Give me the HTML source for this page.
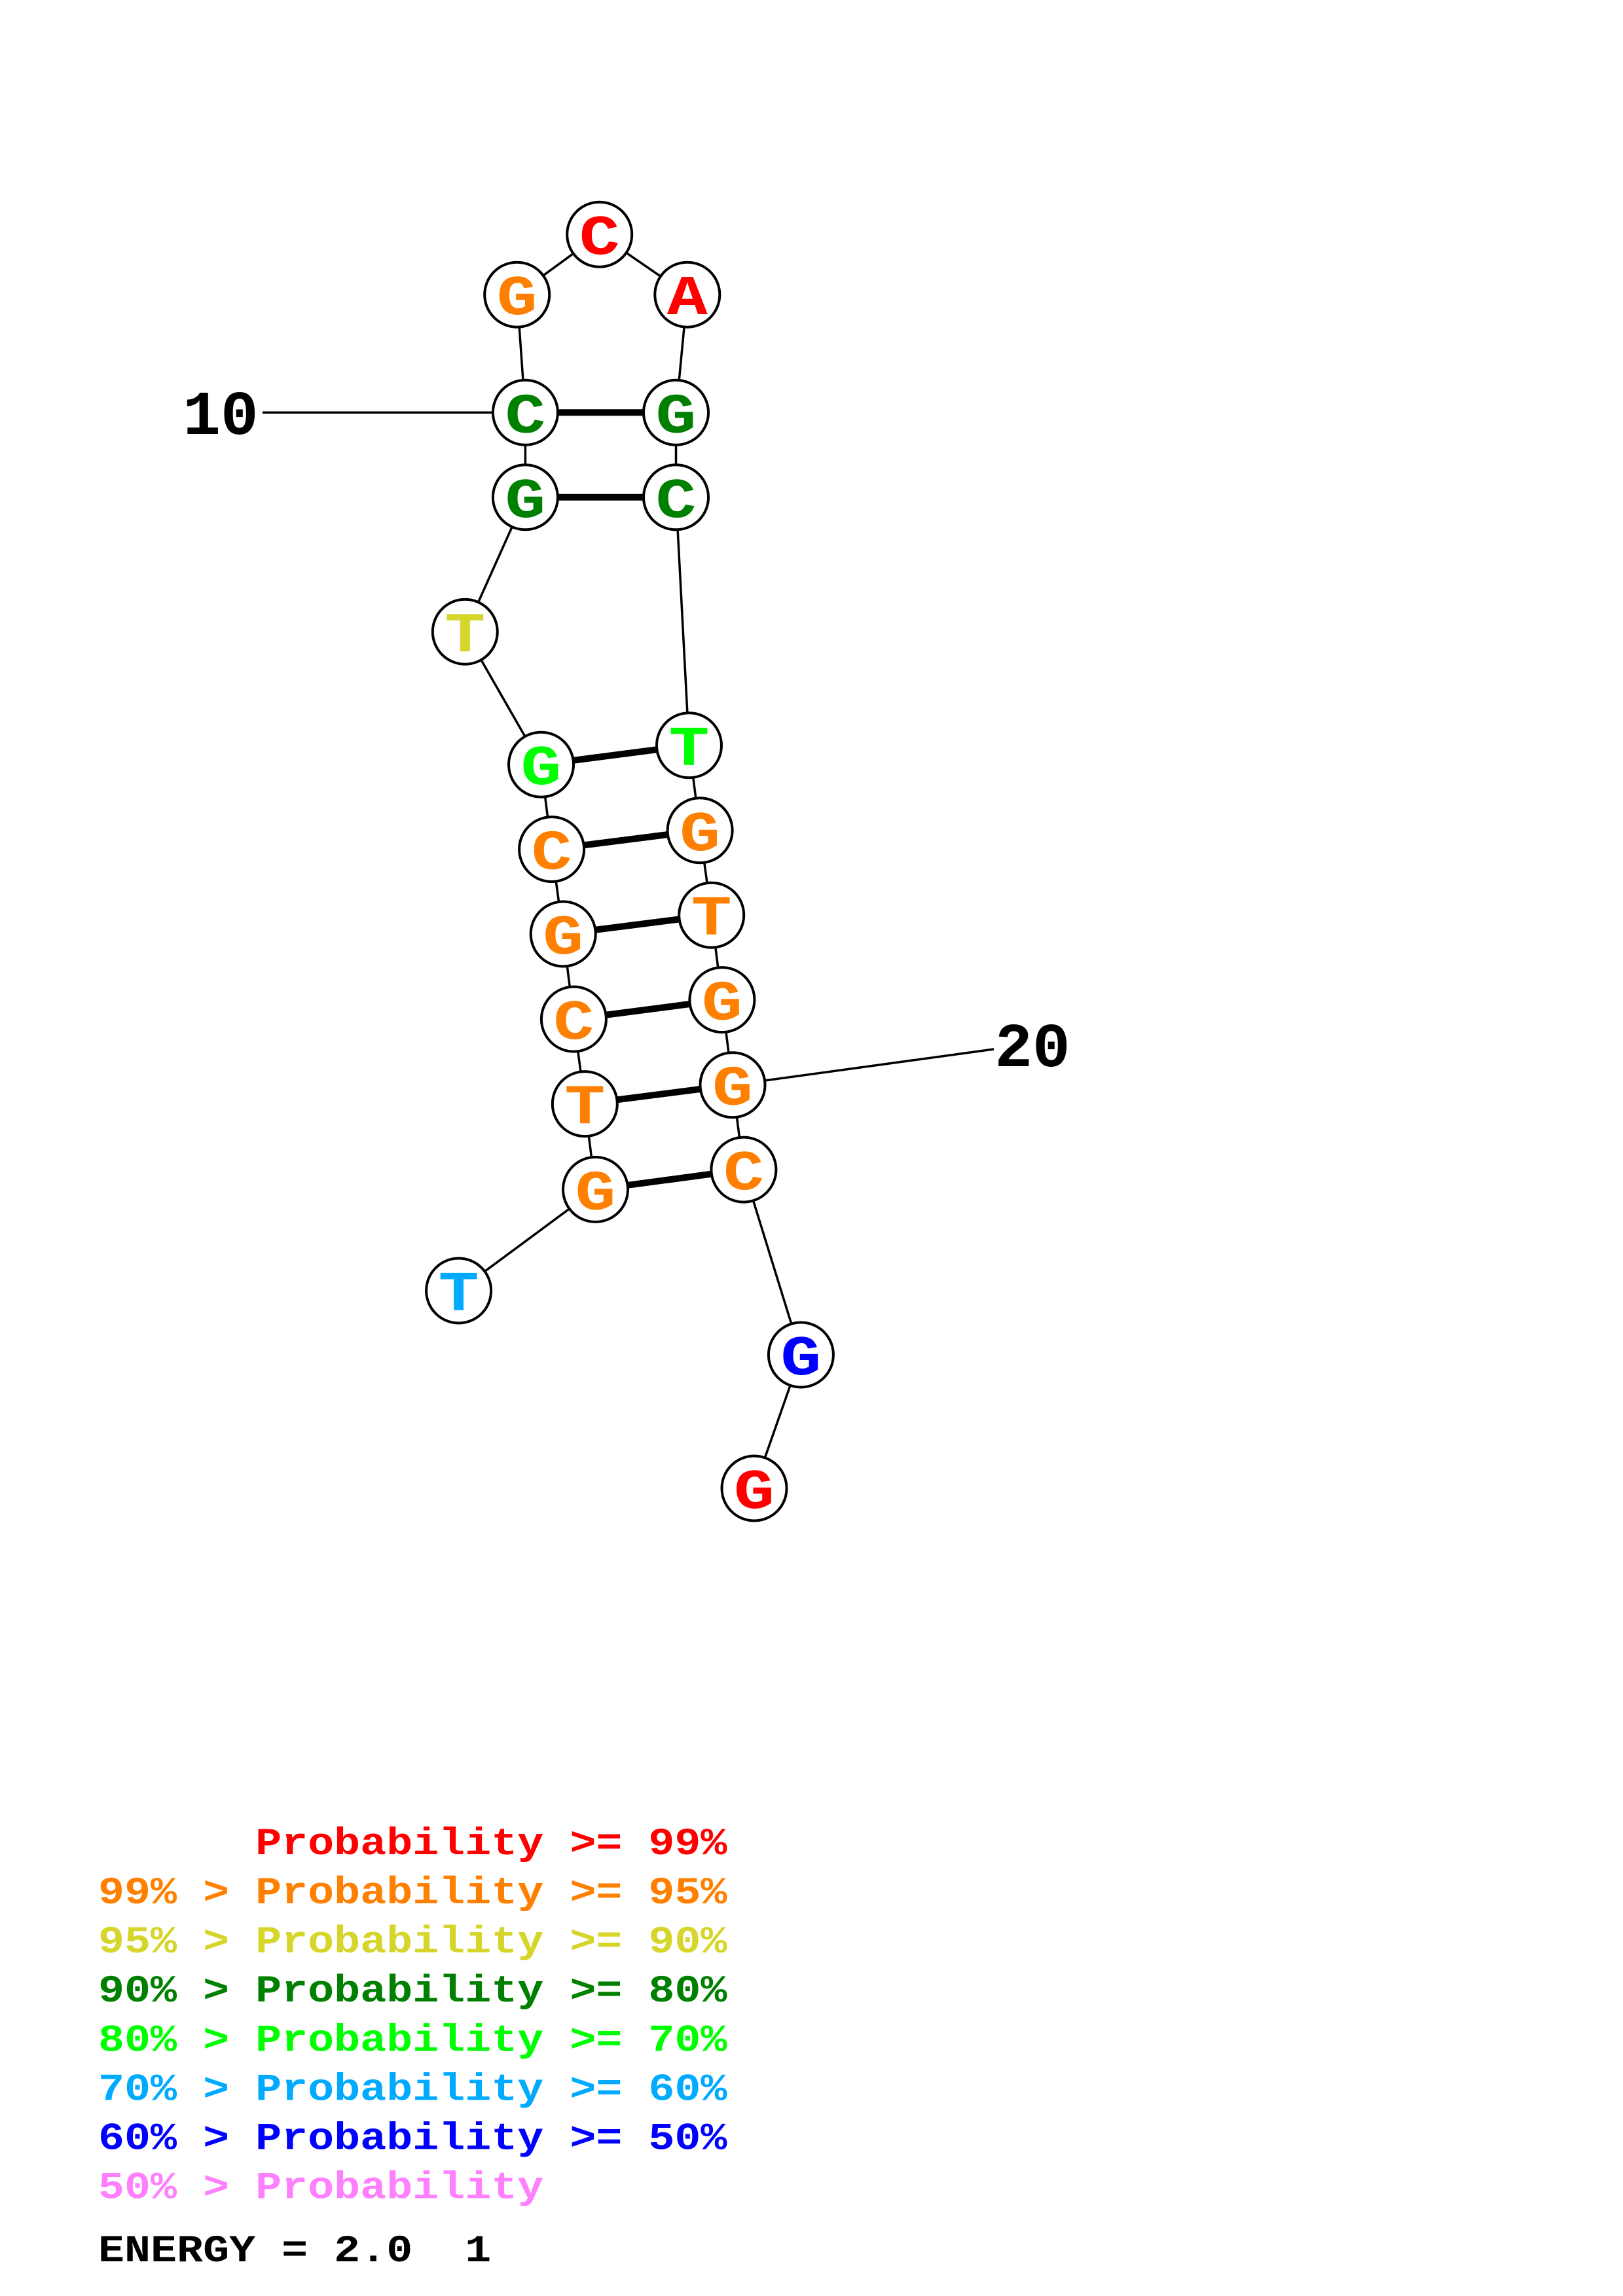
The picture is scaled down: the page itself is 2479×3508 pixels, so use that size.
<!DOCTYPE html>
<html>
<head>
<meta charset="utf-8">
<style>
  html, body { margin: 0; padding: 0; background: #ffffff; }
  svg { display: block; }
  text { font-family: "Liberation Mono", "DejaVu Sans Mono", monospace; font-weight: bold; white-space: pre; }
</style>
</head>
<body>
<svg width="2479" height="3508" viewBox="0 0 2479 3508" xmlns="http://www.w3.org/2000/svg">
  <rect x="0" y="0" width="2479" height="3508" fill="#ffffff"/>

  <!-- label lines -->
  <line x1="401" y1="630.3" x2="802.4" y2="630.3" stroke="#000" stroke-width="3.5"/>
  <line x1="1119" y1="1657.7" x2="1518" y2="1603" stroke="#000" stroke-width="3.5"/>

  <!-- backbone -->
  <polyline fill="none" stroke="#000" stroke-width="3.5" stroke-linejoin="round"
    points="700.6,1972 909.5,1817.4 893.3,1686.6 876.4,1557.1 860.2,1427 842.6,1297.6 826.5,1168.2 710.3,965.3 802.4,759.8 802.4,630.3 789.7,450.2 915.7,358.2 1049.8,450.2 1032.5,630.3 1032.5,759.8 1052.5,1138.8 1069.1,1268.8 1086.7,1398.2 1102.9,1527.6 1119,1657.7 1135.9,1787.1 1223.4,2070 1152,2274"/>

  <!-- base pairs -->
  <g stroke="#000" stroke-width="10">
    <line x1="802.4" y1="630.3" x2="1032.5" y2="630.3"/>
    <line x1="802.4" y1="759.8" x2="1032.5" y2="759.8"/>
    <line x1="826.5" y1="1168.2" x2="1052.5" y2="1138.8"/>
    <line x1="842.6" y1="1297.6" x2="1069.1" y2="1268.8"/>
    <line x1="860.2" y1="1427" x2="1086.7" y2="1398.2"/>
    <line x1="876.4" y1="1557.1" x2="1102.9" y2="1527.6"/>
    <line x1="893.3" y1="1686.6" x2="1119" y2="1657.7"/>
    <line x1="909.5" y1="1817.4" x2="1135.9" y2="1787.1"/>
  </g>

  <!-- nodes -->
  <g fill="#ffffff" stroke="#000" stroke-width="4">
    <circle cx="700.6" cy="1972" r="49.5"/>
    <circle cx="909.5" cy="1817.4" r="49.5"/>
    <circle cx="893.3" cy="1686.6" r="49.5"/>
    <circle cx="876.4" cy="1557.1" r="49.5"/>
    <circle cx="860.2" cy="1427" r="49.5"/>
    <circle cx="842.6" cy="1297.6" r="49.5"/>
    <circle cx="826.5" cy="1168.2" r="49.5"/>
    <circle cx="710.3" cy="965.3" r="49.5"/>
    <circle cx="802.4" cy="759.8" r="49.5"/>
    <circle cx="802.4" cy="630.3" r="49.5"/>
    <circle cx="789.7" cy="450.2" r="49.5"/>
    <circle cx="915.7" cy="358.2" r="49.5"/>
    <circle cx="1049.8" cy="450.2" r="49.5"/>
    <circle cx="1032.5" cy="630.3" r="49.5"/>
    <circle cx="1032.5" cy="759.8" r="49.5"/>
    <circle cx="1052.5" cy="1138.8" r="49.5"/>
    <circle cx="1069.1" cy="1268.8" r="49.5"/>
    <circle cx="1086.7" cy="1398.2" r="49.5"/>
    <circle cx="1102.9" cy="1527.6" r="49.5"/>
    <circle cx="1119" cy="1657.7" r="49.5"/>
    <circle cx="1135.9" cy="1787.1" r="49.5"/>
    <circle cx="1223.4" cy="2070" r="49.5"/>
    <circle cx="1152" cy="2274" r="49.5"/>
  </g>

  <!-- node letters -->
  <g font-size="86" text-anchor="middle">
    <text transform="translate(700.6,2002) scale(1.2,1)" fill="#00aaff">T</text>
    <text transform="translate(909.5,1847.4) scale(1.2,1)" fill="#ff8000">G</text>
    <text transform="translate(893.3,1716.6) scale(1.2,1)" fill="#ff8000">T</text>
    <text transform="translate(876.4,1587.1) scale(1.2,1)" fill="#ff8000">C</text>
    <text transform="translate(860.2,1457) scale(1.2,1)" fill="#ff8000">G</text>
    <text transform="translate(842.6,1327.6) scale(1.2,1)" fill="#ff8000">C</text>
    <text transform="translate(826.5,1198.2) scale(1.2,1)" fill="#00ff00">G</text>
    <text transform="translate(710.3,995.3) scale(1.2,1)" fill="#d5d52a">T</text>
    <text transform="translate(802.4,789.8) scale(1.2,1)" fill="#008000">G</text>
    <text transform="translate(802.4,660.3) scale(1.2,1)" fill="#008000">C</text>
    <text transform="translate(789.7,480.2) scale(1.2,1)" fill="#ff8000">G</text>
    <text transform="translate(915.7,388.2) scale(1.2,1)" fill="#ff0000">C</text>
    <text transform="translate(1049.8,480.2) scale(1.2,1)" fill="#ff0000">A</text>
    <text transform="translate(1032.5,660.3) scale(1.2,1)" fill="#008000">G</text>
    <text transform="translate(1032.5,789.8) scale(1.2,1)" fill="#008000">C</text>
    <text transform="translate(1052.5,1168.8) scale(1.2,1)" fill="#00ff00">T</text>
    <text transform="translate(1069.1,1298.8) scale(1.2,1)" fill="#ff8000">G</text>
    <text transform="translate(1086.7,1428.2) scale(1.2,1)" fill="#ff8000">T</text>
    <text transform="translate(1102.9,1557.6) scale(1.2,1)" fill="#ff8000">G</text>
    <text transform="translate(1119,1687.7) scale(1.2,1)" fill="#ff8000">G</text>
    <text transform="translate(1135.9,1817.1) scale(1.2,1)" fill="#ff8000">C</text>
    <text transform="translate(1223.4,2100) scale(1.2,1)" fill="#0000ff">G</text>
    <text transform="translate(1152,2304) scale(1.2,1)" fill="#ff0000">G</text>
  </g>

  <!-- position labels -->
  <text x="337" y="663" font-size="96" text-anchor="middle" fill="#000">10</text>
  <text x="1577" y="1629" font-size="96" text-anchor="middle" fill="#000">20</text>

  <!-- legend -->
  <g font-size="66.7">
    <text transform="translate(150,2833) scale(1,0.88)" fill="#ff0000">&#160;&#160;&#160;&#160;&#160;&#160;Probability&#160;&gt;=&#160;99%</text>
    <text transform="translate(150,2908) scale(1,0.88)" fill="#ff8000">99%&#160;&gt;&#160;Probability&#160;&gt;=&#160;95%</text>
    <text transform="translate(150,2983) scale(1,0.88)" fill="#d5d52a">95%&#160;&gt;&#160;Probability&#160;&gt;=&#160;90%</text>
    <text transform="translate(150,3058) scale(1,0.88)" fill="#008000">90%&#160;&gt;&#160;Probability&#160;&gt;=&#160;80%</text>
    <text transform="translate(150,3133.5) scale(1,0.88)" fill="#00ff00">80%&#160;&gt;&#160;Probability&#160;&gt;=&#160;70%</text>
    <text transform="translate(150,3208.5) scale(1,0.88)" fill="#00aaff">70%&#160;&gt;&#160;Probability&#160;&gt;=&#160;60%</text>
    <text transform="translate(150,3283.5) scale(1,0.88)" fill="#0000ff">60%&#160;&gt;&#160;Probability&#160;&gt;=&#160;50%</text>
    <text transform="translate(150,3358.6) scale(1,0.88)" fill="#ff80ff">50%&#160;&gt;&#160;Probability</text>
    <text transform="translate(150,3455) scale(1,0.88)" fill="#000000">ENERGY&#160;=&#160;2.0&#160;&#160;1</text>
  </g>
</svg>
</body>
</html>
